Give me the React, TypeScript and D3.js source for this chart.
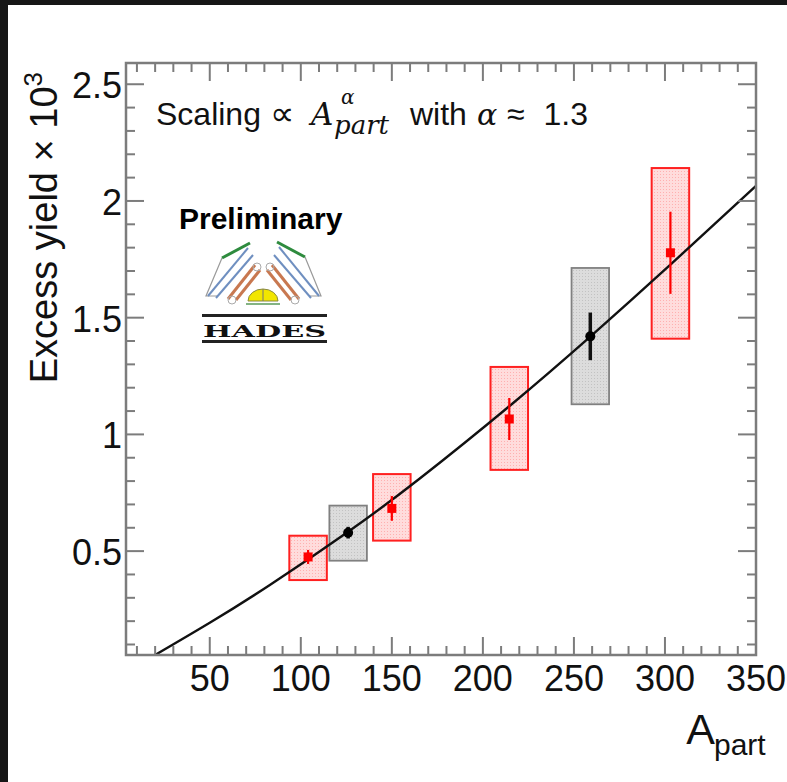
import React from "react";
import * as d3 from "d3";

// ---- data ----
const redA = [104, 150, 214.5, 303];
const redY = [0.475, 0.683, 1.066, 1.778];
const redStat = [0.03, 0.053, 0.09, 0.176];
const redSysLo = [0.376, 0.545, 0.848, 1.41];
const redSysHi = [0.566, 0.83, 1.289, 2.141];

const grayA = [126, 259];
const grayY = [0.579, 1.42];
const grayStat = [0.025, 0.102];
const graySysLo = [0.459, 1.129];
const graySysHi = [0.695, 1.713];

const boxHalfWidthA = 10.3;

const fitA = [18, 50, 83, 126, 165, 215, 259, 303, 350];
const fitY = [0.046, 0.193, 0.355, 0.583, 0.809, 1.124, 1.419, 1.727, 2.065];

const xTickLabels = ["50", "100", "150", "200", "250", "300", "350"];
const yTickLabels = ["0.5", "1", "1.5", "2", "2.5"];

const W = 787;
const H = 782;
const frame = { left: 126, right: 756, top: 63, bottom: 655 };

export default function App() {
  const x = d3.scaleLinear().domain([4, 350]).range([frame.left, frame.right]);
  const y = d3.scaleLinear().domain([0.055, 2.591]).range([frame.bottom, frame.top]);

  const xMinor = d3.range(1, 36).map((i) => i * 10);
  const yMinor = d3.range(1, 26).map((i) => i / 10);

  const line = d3
    .line<number>()
    .x((_, i) => x(fitA[i]))
    .y((d) => y(d))
    .curve(d3.curveNatural);

  const axisColor = "#7c7c7c";
  const sans = "'Liberation Sans', Arial, Helvetica, sans-serif";
  const serif = "'DejaVu Serif', 'Liberation Serif', serif";

  return (
    <svg
      width={W}
      height={H}
      viewBox={`0 0 ${W} ${H}`}
      style={{ position: "fixed", left: 0, top: 0, background: "#fff" }}
    >
      <defs>
        <clipPath id="plotClip">
          <rect x={frame.left} y={frame.top} width={frame.right - frame.left} height={frame.bottom - frame.top} />
        </clipPath>
        <pattern id="redHatch" width="3" height="3" patternUnits="userSpaceOnUse">
          <rect width="3" height="3" fill="#ffdcdc" />
          <rect width="1" height="1" fill="#ffb0b0" />
        </pattern>
        <pattern id="grayHatch" width="3" height="3" patternUnits="userSpaceOnUse">
          <rect width="3" height="3" fill="#dcdcdc" />
          <rect width="1" height="1" fill="#c2c2c2" />
        </pattern>
      </defs>

      <rect x={0} y={0} width={W} height={H} fill="#ffffff" />
      {/* dark screenshot borders */}
      <rect x={0} y={0} width={W} height={5} fill="#161616" />
      <rect x={0} y={0} width={8} height={H} fill="#161616" />

      {/* systematic boxes */}
      {grayA.map((a, i) => (
        <rect
          key={"gb" + i}
          x={x(a - boxHalfWidthA)}
          y={y(graySysHi[i])}
          width={x(a + boxHalfWidthA) - x(a - boxHalfWidthA)}
          height={y(graySysLo[i]) - y(graySysHi[i])}
          fill="url(#grayHatch)"
          stroke="#808080"
          strokeWidth={1.8}
        />
      ))}
      {redA.map((a, i) => (
        <rect
          key={"rb" + i}
          x={x(a - boxHalfWidthA)}
          y={y(redSysHi[i])}
          width={x(a + boxHalfWidthA) - x(a - boxHalfWidthA)}
          height={y(redSysLo[i]) - y(redSysHi[i])}
          fill="url(#redHatch)"
          stroke="#ff2020"
          strokeWidth={2}
        />
      ))}

      {/* fit curve */}
      <path d={line(fitY) || ""} fill="none" stroke="#111" strokeWidth={2.4} clipPath="url(#plotClip)" />

      {/* stat errors and markers */}
      {grayA.map((a, i) => (
        <g key={"gp" + i}>
          <line x1={x(a)} x2={x(a)} y1={y(grayY[i] - grayStat[i])} y2={y(grayY[i] + grayStat[i])} stroke="#111" strokeWidth={3.5} />
          <circle cx={x(a)} cy={y(grayY[i])} r={5} fill="#000" />
        </g>
      ))}
      {redA.map((a, i) => (
        <g key={"rp" + i}>
          <line x1={x(a)} x2={x(a)} y1={y(redY[i] - redStat[i])} y2={y(redY[i] + redStat[i])} stroke="#ff0000" strokeWidth={2.2} />
          <rect x={x(a) - 4.5} y={y(redY[i]) - 4.5} width={9} height={9} fill="#ff0000" />
        </g>
      ))}

      {/* frame */}
      <rect
        x={frame.left}
        y={frame.top}
        width={frame.right - frame.left}
        height={frame.bottom - frame.top}
        fill="none"
        stroke={axisColor}
        strokeWidth={2.5}
      />
      {/* x ticks bottom & top */}
      {xMinor.map((v) => {
        const major = v % 50 === 0;
        const len = major ? 18 : 9;
        const px = x(v);
        return (
          <g key={"xt" + v}>
            <line x1={px} x2={px} y1={frame.bottom} y2={frame.bottom - len} stroke={axisColor} strokeWidth={2} />
            <line x1={px} x2={px} y1={frame.top} y2={frame.top + len} stroke={axisColor} strokeWidth={2} />
          </g>
        );
      })}
      {/* y ticks left & right */}
      {yMinor.map((v, i) => {
        const major = (i + 1) % 5 === 0;
        const len = major ? 18 : 9;
        const py = y(v);
        return (
          <g key={"yt" + i}>
            <line x1={frame.left} x2={frame.left + len} y1={py} y2={py} stroke={axisColor} strokeWidth={2} />
            <line x1={frame.right} x2={frame.right - len} y1={py} y2={py} stroke={axisColor} strokeWidth={2} />
          </g>
        );
      })}

      {/* tick labels */}
      {xTickLabels.map((t) => (
        <text key={"xl" + t} x={x(+t)} y={691} textAnchor="middle" fontFamily={sans} fontSize={36} fill="#111">
          {t}
        </text>
      ))}
      {yTickLabels.map((t) => (
        <text key={"yl" + t} x={122} y={y(+t) + 14} textAnchor="end" fontFamily={sans} fontSize={36} fill="#111">
          {t}
        </text>
      ))}

      {/* axis titles */}
      <text transform="translate(57,72) rotate(-90)" textAnchor="end" fontFamily={sans} fontSize={38} fill="#111">
        Excess yield × 10
        <tspan fontSize={26} dy={-15}>3</tspan>
      </text>
      <text x={715} y={744} textAnchor="end" fontFamily={sans} fontSize={43} fill="#111">
        A
      </text>
      <text x={714} y={755} fontFamily={sans} fontSize={30} fill="#111">
        part
      </text>

      {/* annotation */}
      <text x={156} y={125} fontFamily={sans} fontSize={32} fill="#111">Scaling</text>
      <text x={270} y={125} fontFamily="'DejaVu Sans', sans-serif" fontSize={34} fill="#111">∝</text>
      <text x={311} y={125} fontFamily={serif} fontStyle="italic" fontSize={31} fill="#111">A</text>
      <text x={341} y={104} fontFamily={serif} fontStyle="italic" fontSize={20} fill="#111">α</text>
      <text x={334} y={134} fontFamily={serif} fontStyle="italic" fontSize={26} fill="#111">part</text>
      <text x={410} y={125} fontFamily={sans} fontSize={32} fill="#111">with</text>
      <text x={477} y={125} fontFamily={serif} fontStyle="italic" fontSize={30} fill="#111">α</text>
      <text x={507} y={125} fontFamily={sans} fontSize={32} fill="#111">≈</text>
      <text x={588} y={125} textAnchor="end" fontFamily={sans} fontSize={32} fill="#111">1.3</text>

      {/* Preliminary + HADES logo */}
      <text x={179} y={229} fontFamily={sans} fontWeight="bold" fontSize={30} fill="#000">Preliminary</text>
      <g>
        {/* green top bars */}
        <line x1={222} y1={258} x2={250} y2={243} stroke="#2e8b3e" strokeWidth={3} />
        <line x1={277} y1={242} x2={305} y2={257} stroke="#2e8b3e" strokeWidth={3} />
        {/* left wing */}
        <polyline points="222,258 206,296 218,296" fill="none" stroke="#9a9a9a" strokeWidth={1.2} />
        <line x1={248} y1={248} x2={208} y2={296} stroke="#6f8fc0" strokeWidth={2} />
        <line x1={253} y1={255} x2={216} y2={298} stroke="#6f8fc0" strokeWidth={2} />
        <line x1={255} y1={265} x2={228} y2={299} stroke="#c87850" strokeWidth={3} />
        <line x1={260} y1={270} x2={236} y2={300} stroke="#c87850" strokeWidth={3} />
        <circle cx={257} cy={267} r={4} fill="none" stroke="#aaa" strokeWidth={1} />
        <circle cx={232} cy={300} r={4} fill="none" stroke="#aaa" strokeWidth={1} />
        {/* right wing */}
        <polyline points="305,257 321,296 309,296" fill="none" stroke="#9a9a9a" strokeWidth={1.2} />
        <line x1={279} y1={247} x2={319} y2={296} stroke="#6f8fc0" strokeWidth={2} />
        <line x1={274} y1={255} x2={311} y2={298} stroke="#6f8fc0" strokeWidth={2} />
        <line x1={272} y1={265} x2={299} y2={299} stroke="#c87850" strokeWidth={3} />
        <line x1={267} y1={270} x2={291} y2={300} stroke="#c87850" strokeWidth={3} />
        <circle cx={270} cy={267} r={4} fill="none" stroke="#aaa" strokeWidth={1} />
        <circle cx={295} cy={300} r={4} fill="none" stroke="#aaa" strokeWidth={1} />
        {/* yellow target */}
        <path d="M248,301 A15,12 0 0 1 278,301 Z" fill="#f2e600" stroke="#8a8a40" strokeWidth={1} />
        <line x1={263} y1={289} x2={263} y2={301} stroke="#777" strokeWidth={1} />
        <line x1={246} y1={304} x2={280} y2={304} stroke="#5a9a5a" strokeWidth={1.5} />
        {/* HADES name */}
        <rect x={202} y={314} width={125} height={3} fill="#222" />
        <text x={203} y={337} fontFamily="'DejaVu Serif', serif" fontWeight="bold" fontSize={17} textLength={123} lengthAdjust="spacingAndGlyphs" fill="#111">
          HADES
        </text>
        <rect x={202} y={340} width={125} height={3} fill="#222" />
      </g>
    </svg>
  );
}
